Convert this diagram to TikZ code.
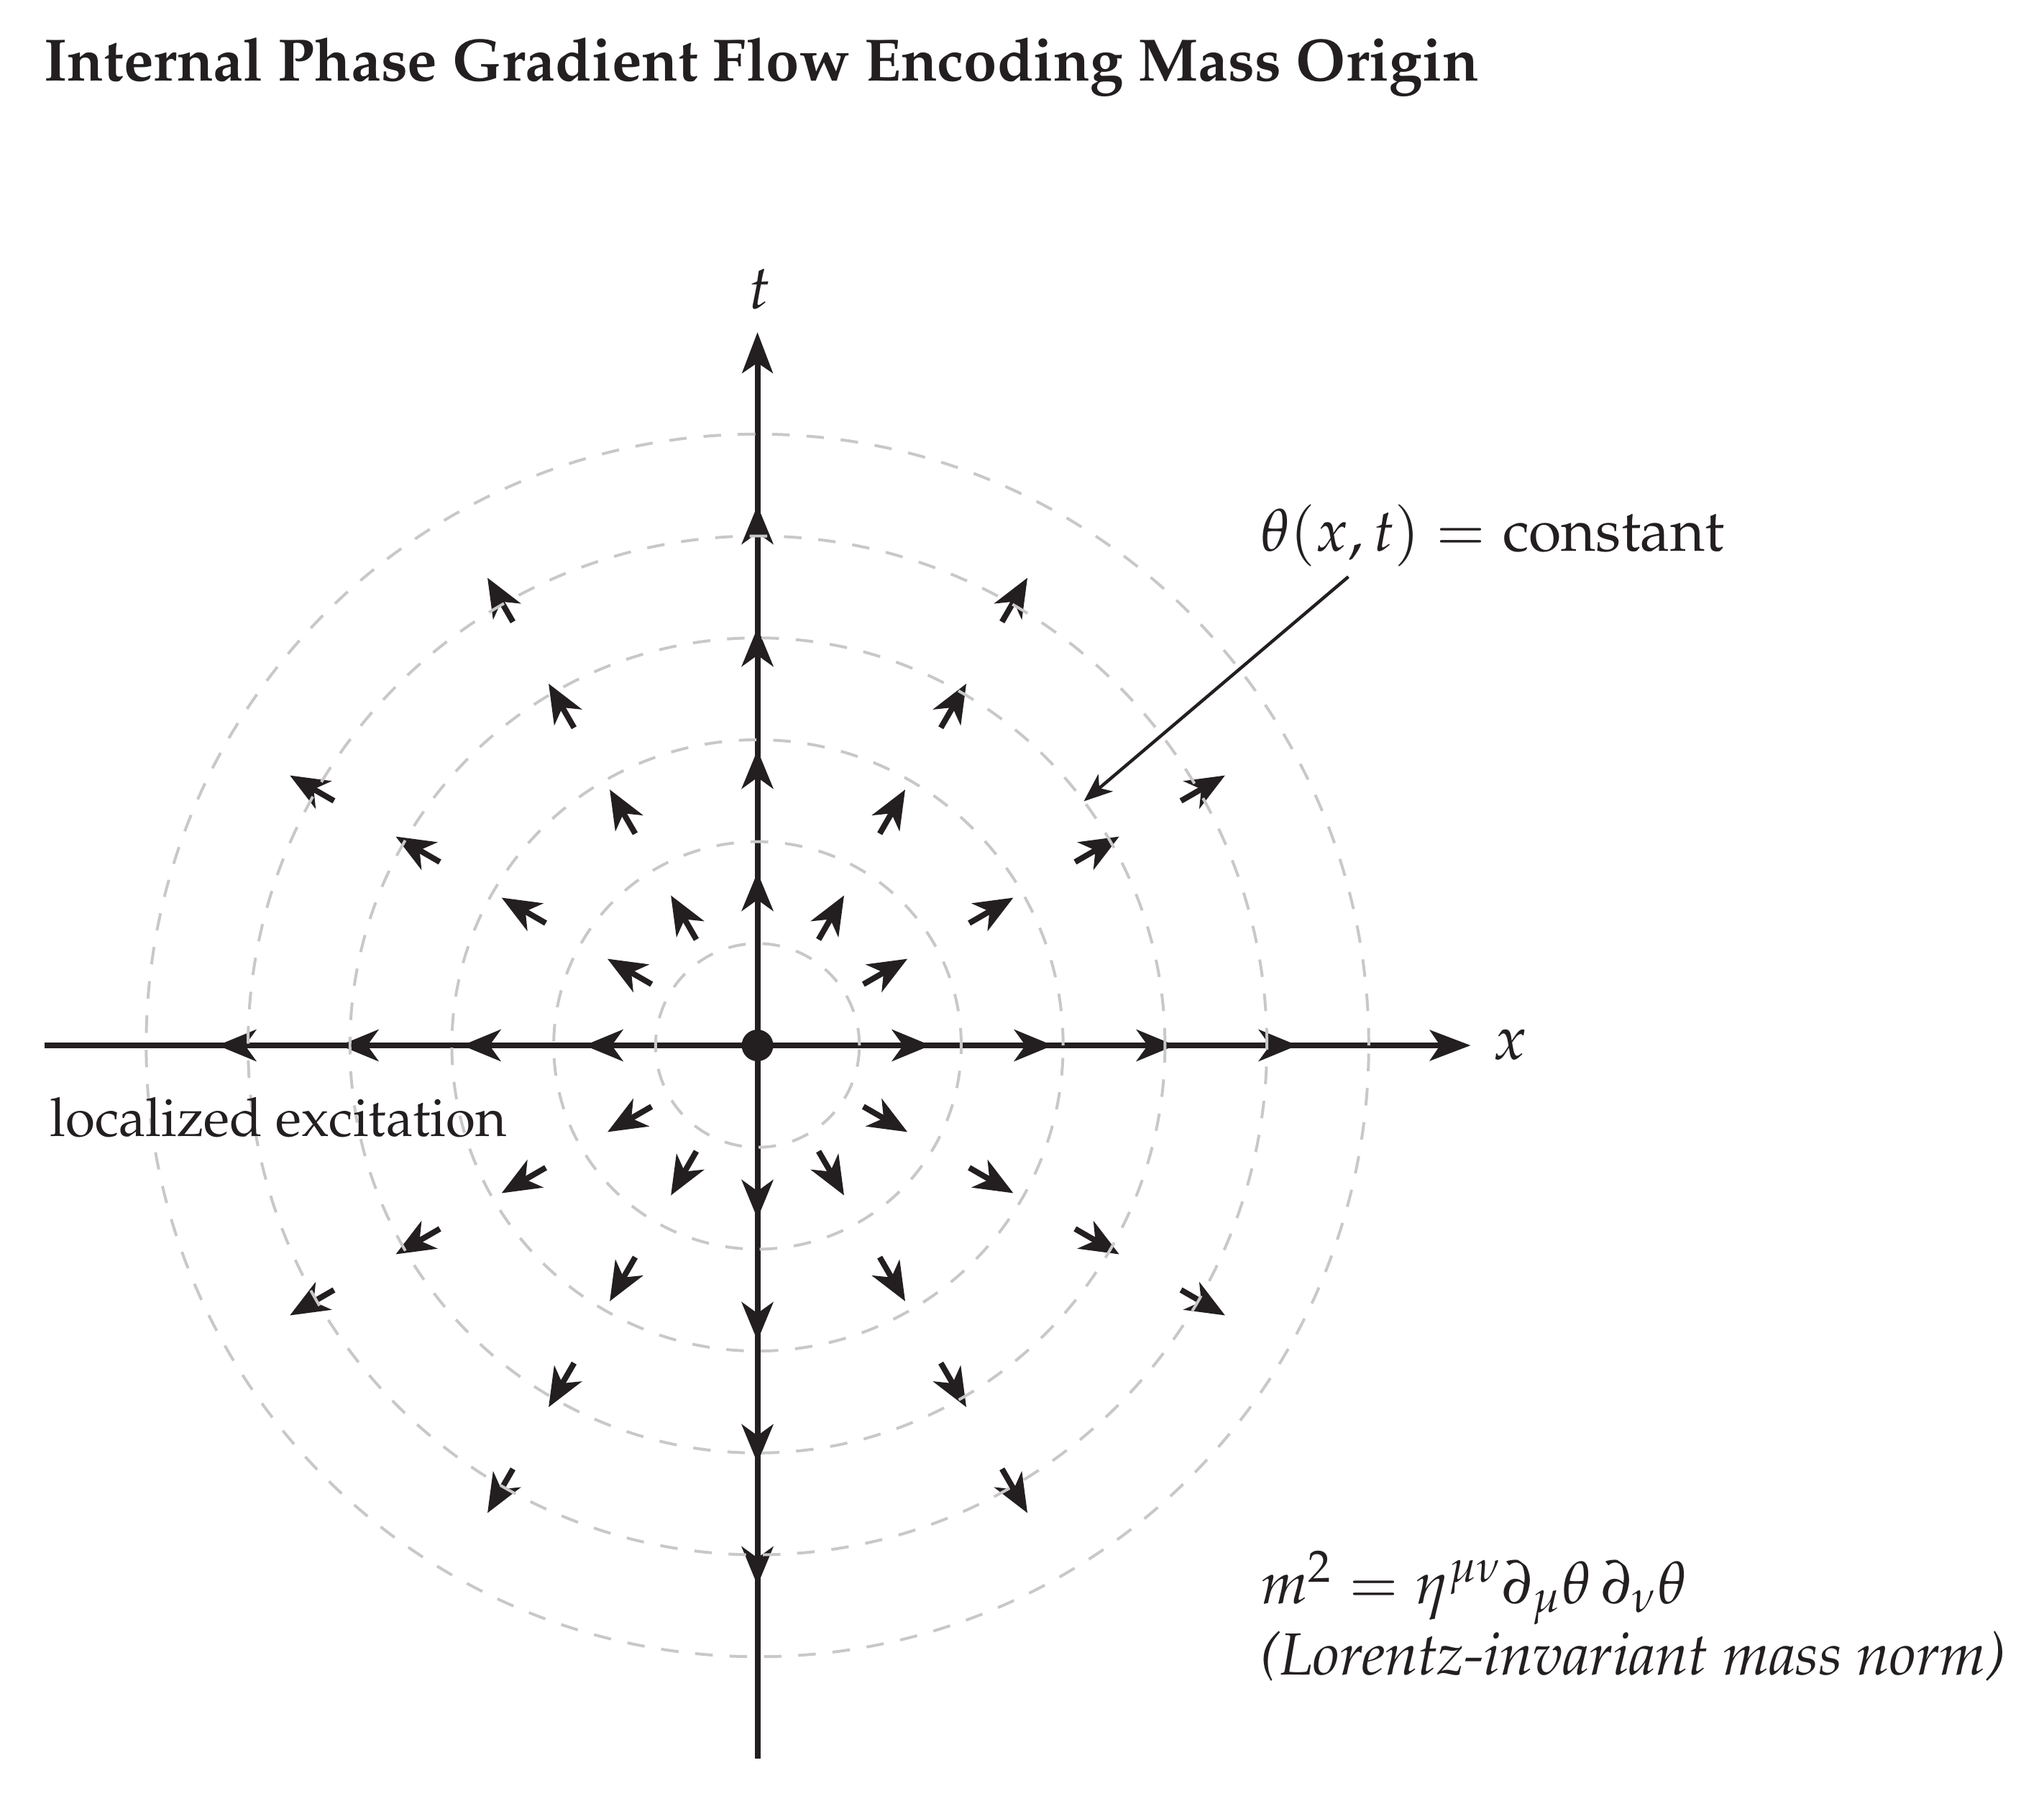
\documentclass[tikz,border=0pt]{standalone}
\usepackage[T1]{fontenc}
\usepackage{mathpazo}
\usetikzlibrary{arrows.meta}
\definecolor{ink}{RGB}{35,31,32}
\definecolor{ringgray}{RGB}{200,200,200}
\newcommand{\labfont}{\fontsize{15.0}{18}\selectfont}
\newcommand{\bigfont}{\fontsize{16.6}{20}\selectfont}
\newcommand{\axisfont}{\fontsize{17.2}{20.6}\selectfont}
\newcommand{\titlefont}{\fontsize{16.7}{20}\selectfont\bfseries}
\tikzset{
  axisline/.style={line width=1.6pt, draw=ink},
  axistip/.style={-{Stealth[length=4mm,width=3mm,inset=1mm]}},
  fieldarrow/.style={line width=1.6pt, draw=ink, fill=ink, -{Stealth[length=3.8mm,width=3.1mm,inset=1.1mm]}},
  phasering/.style={draw=ringgray, line width=0.8pt, dash pattern=on 4.9pt off 4.7pt},
  pointer/.style={draw=ink, line width=0.9pt, -{Stealth[length=2.8mm,width=2.2mm,inset=0.8mm]}},
  txt/.style={inner sep=0pt, text=ink},
}
\begin{document}
\begin{tikzpicture}
\useasboundingbox (-7.435,-7.361) rectangle (12.628,10.261);

% axes
\coordinate (xl) at (-7,0);
\coordinate (xr) at (7,0);
\coordinate (tb) at (0,-7);
\coordinate (tt) at (0,7);
\draw[axisline, axistip] (xl) -- (xr);
\draw[axisline, axistip] (tb) -- (tt);

% gradient flow arrows
\foreach \r in {1.2,2.4,3.6,4.8}{
  \foreach \a in {0,30,...,330}{
    \draw[fieldarrow] ({\a}:{\r}) -- ({\a}:{\r+0.5});
  }
}

% level sets of the phase
\foreach \r in {1,...,6}{
  \draw[phasering] (0,0) circle (\r);
}

% localized excitation
\node[circle, fill=ink, inner sep=0pt, minimum size=0.31cm] (origin) at (0,0) {};

% axis labels
\node[txt, anchor=base, font=\axisfont] (xlab) at (7.39,-0.136) {$x$};
\node[txt, anchor=base, font=\axisfont] (tlab) at (0.02,7.23) {$t$};

% title
\node[txt, anchor=base west, font=\titlefont] (title) at (-7.01,9.47)
  {Internal Phase Gradient Flow Encoding Mass Origin};

% level-set label and pointer
\node[txt, anchor=base west, font=\bigfont] (theta) at (4.93,4.85)
  {$\theta(x,t) = \mathrm{constant}$};
\coordinate (pstart) at (5.80,4.60);
\coordinate (ptip) at (36.8:4);
\draw[pointer] (pstart) -- (ptip);

% excitation label
\node[txt, anchor=base west, font=\labfont] (loc) at (-6.95,-0.89) {localized excitation};

% mass norm
\node[txt, anchor=base west, font=\bigfont] (mass) at (4.93,-5.48)
  {$m^2 = \eta^{\mu\nu}\partial_\mu\theta\,\partial_\nu\theta$};
\node[txt, anchor=base west, font=\bigfont] (massnote) at (4.93,-6.18)
  {\textit{(Lorentz-invariant mass norm)}};
\end{tikzpicture}
\end{document}
